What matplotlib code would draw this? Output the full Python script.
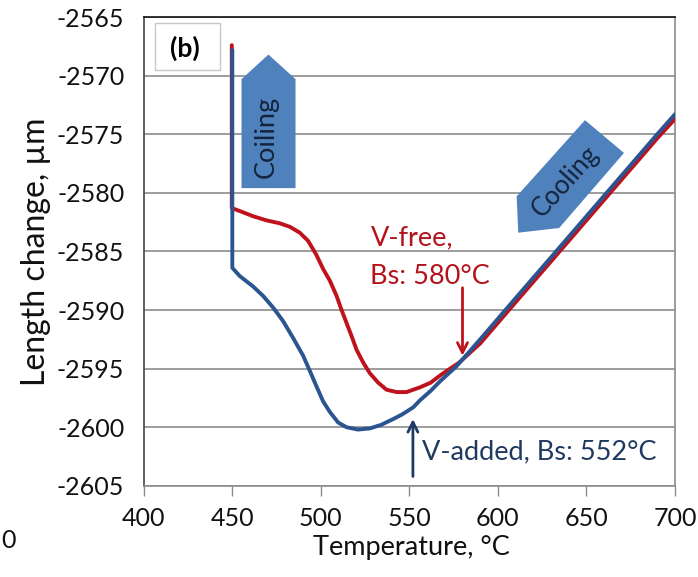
import matplotlib
matplotlib.use("Agg")
from matplotlib import pyplot as plt
from matplotlib.patches import Polygon, Rectangle

# dilatometry, V-added steel (blue)
temp_v = [450.0, 450.0, 454.2, 461.8, 467.4, 473.1, 478.7, 484.4, 490.0, 493.8, 497.5,
          501.3, 505.1, 509.8, 514.5, 521.0, 527.7, 534.0, 540.9, 546.0, 552.2, 556.0,
          562.0, 567.2, 576.6, 590.0, 610.5, 630.0, 650.0, 670.0, 690.0, 700.0]
len_v = [-2567.8, -2586.4, -2587.1, -2588.0, -2588.8, -2589.8, -2590.95, -2592.4, -2593.9,
         -2595.2, -2596.5, -2597.8, -2598.7, -2599.6, -2600.0, -2600.2, -2600.1, -2599.8,
         -2599.3, -2598.9, -2598.3, -2597.7, -2596.9, -2596.1, -2594.8, -2592.5, -2588.9,
         -2585.5, -2582.0, -2578.5, -2575.0, -2573.3]

# dilatometry, V-free steel (red)
temp_f = [449.7, 449.7, 455.0, 461.8, 469.3, 476.8, 482.5, 488.1, 492.8, 497.5, 501.3,
          505.1, 508.9, 511.7, 514.5, 517.3, 520.2, 524.0, 527.7, 532.4, 537.1, 542.8,
          548.4, 555.9, 562.0, 567.2, 572.0, 578.0, 590.0, 610.5, 630.0, 650.0, 670.0,
          690.0, 700.0]
len_f = [-2567.4, -2581.3, -2581.6, -2582.0, -2582.35, -2582.6, -2582.9, -2583.4, -2584.1,
         -2585.3, -2586.5, -2587.5, -2588.8, -2590.0, -2591.1, -2592.2, -2593.4, -2594.5,
         -2595.4, -2596.2, -2596.8, -2597.0, -2597.0, -2596.6, -2596.2, -2595.6, -2595.1,
         -2594.5, -2592.85, -2589.25, -2585.85, -2582.35, -2578.85, -2575.35, -2573.7]

bs_free = 580
bs_added = 552

xticks = [400, 450, 500, 550, 600, 650, 700]
yticks = [-2605, -2600, -2595, -2590, -2585, -2580, -2575, -2570, -2565]

plt.rcParams['font.family'] = ['Lato', 'DejaVu Sans']
plt.rcParams['axes.unicode_minus'] = False

fig = plt.figure(figsize=(6.98, 5.77), dpi=100)
ax = fig.add_axes([0.206, 0.158, 0.761, 0.8125])

ax.plot(temp_f, len_f, color='#c0121c', lw=2.8, zorder=4,
        solid_capstyle='round', solid_joinstyle='round')
ax.plot(temp_v, len_v, color='#2b5591', lw=2.8, zorder=5,
        solid_capstyle='round', solid_joinstyle='round')

ax.set_xlim(400, 700)
ax.set_ylim(-2605, -2565)
ax.set_xticks(xticks)
ax.set_yticks(yticks)
ax.grid(axis='y', color='#8c8c8c', lw=1.2)
ax.set_axisbelow(True)
ax.tick_params(axis='x', direction='out', length=7, width=1, color='#8c8c8c',
               labelsize=18, pad=8, labelcolor='#111111')
ax.tick_params(axis='y', length=0, labelsize=18, pad=14, labelcolor='#111111')

ax.spines['top'].set_color('#111111')
ax.spines['left'].set_color('#444444')
ax.spines['right'].set_color('#8c8c8c')
ax.spines['bottom'].set_color('#8c8c8c')
for s in ax.spines.values():
    s.set_linewidth(1.2)

ax.set_xlabel('Temperature, °C', fontsize=19.5, color='#111111')
ax.xaxis.set_label_coords(0.504, -0.132)
ax.xaxis.label.set_va('center')
ax.set_ylabel('Length change, µm', fontsize=23, color='#111111')
ax.yaxis.set_label_coords(-0.203, 0.5)
ax.yaxis.label.set_va('center')

# panel tag
ax.add_patch(Rectangle((0.0207, 0.887), 0.1224, 0.1002, transform=ax.transAxes,
                       facecolor='white', edgecolor='#c8c8c8', lw=1, zorder=3))
ax.text(0.077, 0.934, '(b)', transform=ax.transAxes, fontsize=19, fontweight='bold',
        ha='center', va='center', zorder=4)

# block arrows
arrow_fill = '#4f81bd'
coil = [(455.2, -2579.6), (485.7, -2579.6), (485.7, -2570.3), (470.4, -2568.2), (455.2, -2570.3)]
ax.add_patch(Polygon(coil, closed=True, facecolor=arrow_fill, edgecolor='none', zorder=3))
ax.text(469.2, -2575.2, 'Coiling', rotation=90, fontsize=19.5, color='#14243c',
        ha='center', va='center', zorder=4)

cool = [(649.2, -2573.8), (671.2, -2576.6), (634.6, -2583.0), (611.5, -2583.4), (610.6, -2580.3)]
ax.add_patch(Polygon(cool, closed=True, facecolor=arrow_fill, edgecolor='none', zorder=3))
ax.text(637.9, -2579.0, 'Cooling', rotation=48, fontsize=18.5, color='#14243c',
        ha='center', va='center', rotation_mode='anchor', zorder=4)

# Bs markers
ax.annotate('', xy=(bs_free, -2593.9), xytext=(bs_free, -2588.1),
            arrowprops=dict(arrowstyle='->', color='#c0121c', lw=2, mutation_scale=18,
                            shrinkA=0, shrinkB=0), zorder=6)
ax.text(528.0, -2583.8, 'V-free,', fontsize=19.5, color='#b5121b', ha='left', va='center')
ax.text(528.0, -2587.1, 'Bs: %d°C' % bs_free, fontsize=19.5, color='#b5121b',
        ha='left', va='center')

ax.annotate('', xy=(bs_added, -2599.3), xytext=(bs_added, -2604.2),
            arrowprops=dict(arrowstyle='->', color='#1f3a60', lw=2, mutation_scale=18,
                            shrinkA=0, shrinkB=0), zorder=6)
ax.text(556.9, -2602.1, 'V-added, Bs: %d°C' % bs_added, fontsize=19.5, color='#1f3a60',
        ha='left', va='center')

fig.text(1 / 698, 1 - 541 / 577, '0', fontsize=18, ha='left', va='center', color='#111111')

fig.savefig('out.png', dpi=100)
